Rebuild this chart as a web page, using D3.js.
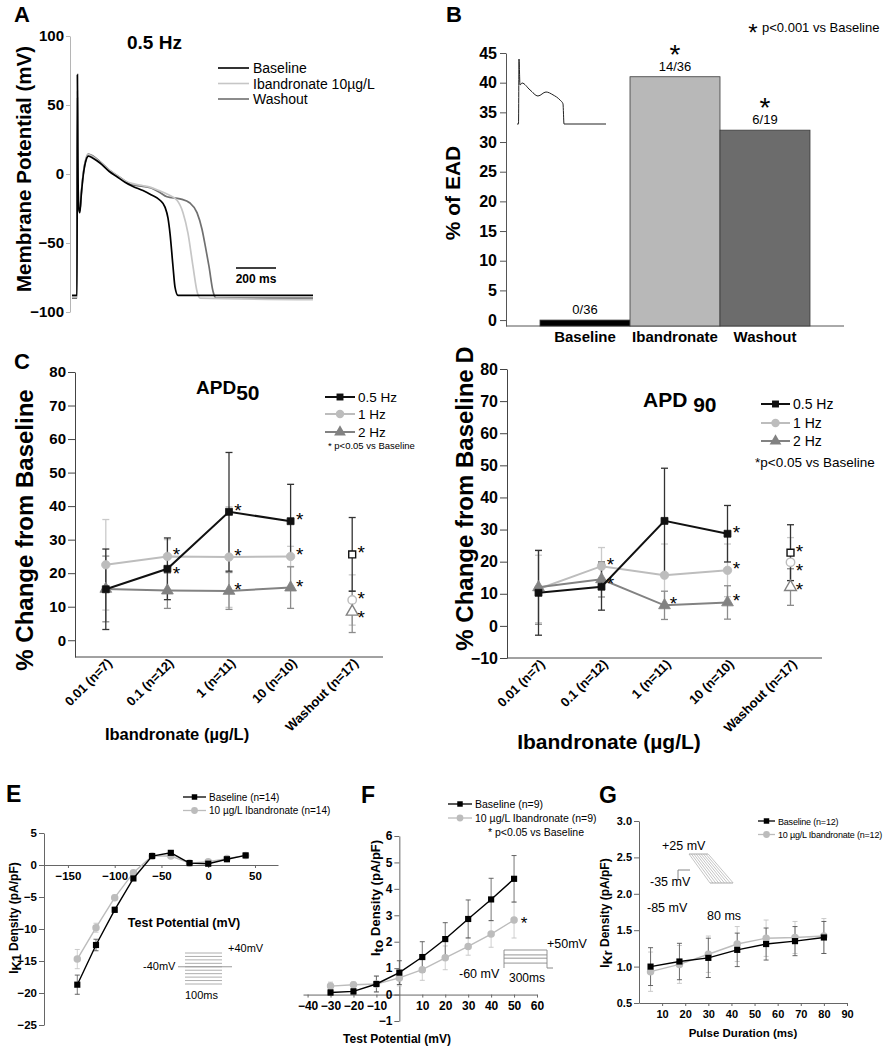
<!DOCTYPE html>
<html>
<head>
<meta charset="utf-8">
<script src="https://cdn.jsdelivr.net/npm/d3@7"></script>
<style>
  body { margin: 0; background: #fff; }
  svg { display: block; }
</style>
</head>
<body>
<svg id="fig" width="889" height="1050"></svg>
<script>
// ---------- data ----------
// A: action potential traces, [time ms, mV]
const apBaseline = [[-25,-88],[0,-88],[2,72],[4,20],[8,-24],[14,-28],[22,-14],[32,0],[45,10],[57,13],[80,11.5],[115,8],[160,2],[200,-2],[240,-6],[280,-9],[330,-12],[370,-15],[415,-19],[440,-24],[455,-32],[465,-43],[480,-67],[490,-82],[505,-88],[1180,-88]];
const apIbandronate = [[-25,-89],[0,-89],[2,60],[4,15],[8,-24],[14,-27],[22,-13],[32,1],[45,11],[57,14],[80,12.5],[115,8.5],[160,3],[200,-1],[240,-5],[280,-7],[330,-8.5],[365,-9.5],[410,-12],[450,-14.5],[500,-19],[530,-28],[555,-43],[580,-67],[600,-85],[615,-90],[1180,-91]];
const apWashout = [[-25,-90],[0,-90],[2,55],[4,15],[8,-24],[14,-27],[22,-13],[32,1],[45,11],[57,14.5],[80,13],[115,9],[160,3],[200,-1],[240,-5],[280,-8],[330,-9],[365,-10],[410,-13],[450,-16.5],[515,-18],[565,-21],[600,-28],[625,-40],[645,-55],[660,-67],[680,-85],[695,-90],[1180,-90]];
const apLegend = ["Baseline", "Ibandronate 10\u00b5g/L", "Washout"];
const apYTicks = [100, 50, 0, -50, -100];

// B: EAD incidence
const eadGroups = ["Baseline", "Ibandronate", "Washout"];
const eadPercent = [0, 41, 32];
const eadCounts = ["0/36", "14/36", "6/19"];
const eadSig = [false, true, true];
const eadTrace = [[0,-85],[1.5,-85],[2,60],[3,2],[5,6.5],[13,-9],[21,-22.5],[29,-13.6],[36,-20],[43,-31.5],[46,-40],[47,-85],[89,-85]];

// C, D: % change from baseline
const doseLabels = ["0.01 (n=7)", "0.1 (n=12)", "1 (n=11)", "10 (n=10)", "Washout (n=17)"];
const freqNames = ["0.5 Hz", "1 Hz", "2 Hz"];

const apd50Hz05 = [15.2, 21.3, 38.3, 35.5, 25.6];
const apd50Hz05Err = [12, 9.2, 17.7, 11, 11];
const apd50Hz1 = [22.5, 25, 24.8, 25, 12];
const apd50Hz1Err = [13.5, 5, 15, 3, 7.5];
const apd50Hz2 = [15.3, 14.8, 14.7, 15.7, 8.5];
const apd50Hz2Err = [9.8, 5.3, 5.5, 6.2, 6.2];
const apd50Sig05 = [0, 1, 1, 1, 1];
const apd50Sig1 = [0, 1, 1, 1, 1];
const apd50Sig2 = [0, 0, 1, 1, 1];

const apd90Hz05 = [10.3, 12.2, 32.7, 28.7, 22.8];
const apd90Hz05Err = [13.2, 7.3, 16.4, 8.8, 8.7];
const apd90Hz1 = [11.5, 18.6, 15.8, 17.3, 19.8];
const apd90Hz1Err = [10.5, 5.8, 9.7, 8.2, 7.7];
const apd90Hz2 = [12, 14.5, 6.4, 7.3, 12.1];
const apd90Hz2Err = [11.5, 5.5, 4.4, 5.2, 5.7];
const apd90Sig05 = [0, 0, 0, 1, 1];
const apd90Sig1 = [0, 1, 0, 1, 1];
const apd90Sig2 = [0, 1, 1, 1, 1];

// E: IK1
const eVolt = [-140, -120, -100, -80, -60, -40, -20, 0, 20, 40];
const eBase = [-18.7, -12.5, -7.0, -2.1, 1.4, 1.9, 0.3, 0.2, 0.9, 1.5];
const eBaseErr = [1.5, 0.9, 0.4, 0.3, 0.3, 0.3, 0.2, 0.2, 0.3, 0.3];
const eIban = [-14.7, -9.8, -5.1, -1.2, 1.4, 1.4, 0.3, 0.5, 1.0, 1.5];
const eIbanErr = [1.5, 0.7, 0.4, 0.3, 0.3, 0.3, 0.2, 0.2, 0.3, 0.3];
const eSteps = [-140, -120, -100, -80, -60, -40, -20, 0, 20, 40];

// F: Ito
const fVolt = [-30, -20, -10, 0, 10, 20, 30, 40, 50];
const fBase = [0.08, 0.12, 0.4, 0.83, 1.42, 2.1, 2.86, 3.6, 4.38];
const fBaseErr = [0.1, 0.1, 0.3, 0.45, 0.58, 0.62, 0.72, 0.8, 0.88];
const fIban = [0.32, 0.37, 0.4, 0.63, 0.94, 1.39, 1.82, 2.29, 2.82];
const fIbanErr = [0.15, 0.1, 0.3, 0.3, 0.4, 0.45, 0.33, 0.5, 0.68];
const fSteps = [-30, 0, 20, 50];

// G: IKr
const gDur = [5, 17.5, 30, 42.5, 55, 67.5, 80];
const gBase = [1.0, 1.07, 1.12, 1.23, 1.31, 1.35, 1.40];
const gBaseErr = [0.26, 0.25, 0.27, 0.23, 0.22, 0.2, 0.22];
const gIban = [0.93, 1.03, 1.17, 1.31, 1.39, 1.40, 1.42];
const gIbanErr = [0.27, 0.26, 0.25, 0.24, 0.25, 0.22, 0.24];

// ---------- helpers ----------
const FONT = "Arial, 'Liberation Sans', sans-serif";
const svg = d3.select("#fig").attr("font-family", FONT);
svg.append("rect").attr("width", 889).attr("height", 1050).attr("fill", "#fff");

function txt(g, s, x, y, o = {}) {
  const t = g.append("text").attr("x", x).attr("y", y).text(s)
    .attr("font-size", o.size || 12)
    .attr("font-weight", o.bold ? "bold" : "normal")
    .attr("text-anchor", o.anchor || "start")
    .attr("fill", o.fill || "#000");
  if (o.rotate) t.attr("transform", `rotate(${o.rotate},${x},${y})`);
  if (o.ls) t.attr("letter-spacing", o.ls);
  return t;
}

function styleAxis(sel, size, color) {
  sel.attr("font-family", FONT).attr("font-size", size).attr("font-weight", "bold");
  sel.select(".domain").attr("stroke", color);
  sel.selectAll(".tick line").attr("stroke", color);
  sel.selectAll(".tick text").attr("fill", "#000");
}

// ---------- A ----------
const gA = svg.append("g");
const xA = d3.scaleLinear().domain([-30, 1180]).range([71, 313]);
const yA = d3.scaleLinear().domain([-100, 100]).range([312, 36]);

gA.append("g").attr("transform", "translate(70,0)")
  .call(d3.axisLeft(yA).tickValues(apYTicks).tickSize(4).tickSizeOuter(0).tickPadding(2))
  .call(s => styleAxis(s, 15, "#b5b5b5"));

const apLine = d3.line().x(d => xA(d[0])).y(d => yA(d[1])).curve(d3.curveMonotoneX);
const apColors = ["#000", "#c6c6c6", "#707070"];
[[apWashout, apColors[2]], [apIbandronate, apColors[1]], [apBaseline, apColors[0]]].forEach(([d, c]) => {
  gA.append("path").datum(d).attr("d", apLine).attr("fill", "none")
    .attr("stroke", c).attr("stroke-width", 1.7);
});

apLegend.forEach((name, i) => {
  const y = 68 + i * 15.5;
  gA.append("line").attr("x1", 218).attr("x2", 249).attr("y1", y).attr("y2", y)
    .attr("stroke", apColors[i]).attr("stroke-width", 1.6);
  txt(gA, name, 253, y + 5, { size: 14 });
});

txt(gA, "0.5 Hz", 127, 49, { size: 19, bold: true });
// 200 ms scale bar
gA.append("line").attr("x1", xA(795)).attr("x2", xA(995)).attr("y1", 268).attr("y2", 268)
  .attr("stroke", "#000").attr("stroke-width", 1.3);
txt(gA, "200 ms", xA(895), 283, { size: 12, bold: true, anchor: "middle" });
txt(gA, "Membrane Potential (mV)", 31, 169, { size: 20.5, bold: true, anchor: "middle", rotate: -90 });
txt(gA, "A", 14, 22, { size: 22, bold: true });

// ---------- B ----------
const gB = svg.append("g");
const xB = d3.scaleBand().domain(eadGroups).range([540, 810]).padding(0);
const yB = d3.scaleLinear().domain([-1, 45]).range([326, 53]);
const barColors = ["#000", "#b8b8b8", "#6c6c6c"];

gB.append("g").attr("transform", "translate(506,0)")
  .call(d3.axisLeft(yB).tickValues(d3.range(0, 46, 5)).tickSize(6).tickSizeOuter(0).tickPadding(3))
  .call(s => styleAxis(s, 16, "#555"));
gB.append("line").attr("x1", 506).attr("x2", 844).attr("y1", 326).attr("y2", 326).attr("stroke", "#555");

gB.selectAll("rect.bar").data(eadGroups).join("rect").attr("class", "bar")
  .attr("x", d => xB(d)).attr("width", xB.bandwidth())
  .attr("y", (d, i) => yB(eadPercent[i]))
  .attr("height", (d, i) => yB(-1) - yB(eadPercent[i]))
  .attr("fill", (d, i) => barColors[i]).attr("stroke", "#3a3a3a").attr("stroke-width", 0.8);

eadGroups.forEach((g, i) => {
  const cx = xB(g) + xB.bandwidth() / 2;
  const top = yB(eadPercent[i]);
  txt(gB, eadCounts[i], cx, top - 6, { size: 13, anchor: "middle" });
  if (eadSig[i]) txt(gB, "*", cx, top - 13, { size: 28, anchor: "middle" });
  txt(gB, g, cx, 342, { size: 15, bold: true, anchor: "middle" });
});

// inset EAD trace
const xI = d3.scaleLinear().domain([0, 89]).range([517, 606]);
const yI = d3.scaleLinear().domain([-85, 60]).range([124, 59]);
gB.append("path").datum(eadTrace)
  .attr("d", d3.line().x(d => xI(d[0])).y(d => yI(d[1])).curve(d3.curveMonotoneX))
  .attr("fill", "none").attr("stroke", "#222").attr("stroke-width", 1);

txt(gB, "*", 753, 41, { size: 24, anchor: "middle" });
txt(gB, "p<0.001 vs Baseline", 762, 32, { size: 13 });
txt(gB, "% of EAD", 460, 193, { size: 21, bold: true, anchor: "middle", rotate: -90 });
txt(gB, "B", 446, 22, { size: 22, bold: true });

// ---------- C & D ----------
const freqColors = ["#111", "#bdbdbd", "#828282"];
const errColors = ["#333", "#cacaca", "#8c8c8c"];
const freqSymbols = [d3.symbolSquare, d3.symbolCircle, d3.symbolTriangle];
const freqSizes = [48, 56, 60];

function drawAPD(cfg) {
  const g = svg.append("g");
  const x = d3.scalePoint().domain(doseLabels).range(cfg.xr).padding(0.5);
  const y = d3.scaleLinear().domain(cfg.yd).range(cfg.yr);

  g.append("g").attr("transform", `translate(${cfg.xr[0]},0)`)
    .call(d3.axisLeft(y).tickValues(cfg.ticks).tickSize(7).tickSizeOuter(0).tickPadding(2))
    .call(s => styleAxis(s, cfg.tickFont, "#444"));
  g.append("line").attr("x1", cfg.xr[0]).attr("x2", cfg.xr[1])
    .attr("y1", cfg.yr[0]).attr("y2", cfg.yr[0]).attr("stroke", "#444");

  doseLabels.forEach(d => {
    txt(g, d, x(d) + 7, cfg.yr[0] + 7, { size: 13, bold: true, anchor: "end", rotate: -45 });
  });

  const line = d3.line().x((d, i) => x(doseLabels[i])).y(d => y(d));
  const order = [1, 2, 0];
  order.forEach(k => {
    const m = cfg.means[k], e = cfg.errs[k];
    // error bars
    m.forEach((v, i) => {
      const cx = x(doseLabels[i]);
      g.append("line").attr("x1", cx).attr("x2", cx).attr("y1", y(v - e[i])).attr("y2", y(v + e[i]))
        .attr("stroke", errColors[k]).attr("stroke-width", 1.3);
      [v - e[i], v + e[i]].forEach(w => {
        g.append("line").attr("x1", cx - 3.5).attr("x2", cx + 3.5).attr("y1", y(w)).attr("y2", y(w))
          .attr("stroke", errColors[k]).attr("stroke-width", 1.3);
      });
    });
  });
  order.forEach(k => {
    const m = cfg.means[k];
    g.append("path").datum(m.slice(0, 4)).attr("d", line).attr("fill", "none")
      .attr("stroke", freqColors[k]).attr("stroke-width", 2);
    m.forEach((v, i) => {
      const washout = i === 4;
      g.append("path")
        .attr("d", d3.symbol().type(freqSymbols[k]).size(freqSizes[k]))
        .attr("transform", `translate(${x(doseLabels[i])},${y(v)})`)
        .attr("fill", washout ? "#fff" : freqColors[k])
        .attr("stroke", freqColors[k]).attr("stroke-width", washout ? 1.4 : 0.8);
    });
  });

  // significance stars, spread apart where they would collide
  doseLabels.forEach((d, i) => {
    const stars = [];
    [0, 1, 2].forEach(k => {
      if (cfg.sig[k][i]) stars.push(y(cfg.means[k][i]) - 6);
    });
    stars.sort((a, b) => a - b);
    for (let j = 1; j < stars.length; j++) {
      if (stars[j] - stars[j - 1] < 19) stars[j] = stars[j - 1] + 19;
    }
    stars.forEach(cy => txt(g, "*", x(d) + 9, cy + 11, { size: 19, anchor: "middle" }));
  });

  // legend
  freqNames.forEach((name, k) => {
    const ly = cfg.legY[k];
    g.append("line").attr("x1", cfg.legX[0]).attr("x2", cfg.legX[1]).attr("y1", ly).attr("y2", ly)
      .attr("stroke", freqColors[k]).attr("stroke-width", 2);
    g.append("path").attr("d", d3.symbol().type(freqSymbols[k]).size(freqSizes[k]))
      .attr("transform", `translate(${(cfg.legX[0] + cfg.legX[1]) / 2},${ly})`)
      .attr("fill", freqColors[k]);
    txt(g, name, cfg.legX[1] + 3, ly + 5, { size: cfg.legFont });
  });
  txt(g, cfg.note, cfg.noteXY[0], cfg.noteXY[1], { size: cfg.noteFont });
  return g;
}

const gC = drawAPD({
  xr: [75, 383], yd: [-5, 80], yr: [657, 372], ticks: d3.range(0, 81, 10), tickFont: 15,
  means: [apd50Hz05, apd50Hz1, apd50Hz2], errs: [apd50Hz05Err, apd50Hz1Err, apd50Hz2Err],
  sig: [apd50Sig05, apd50Sig1, apd50Sig2],
  legX: [325, 355], legY: [397, 414, 432], legFont: 13.5,
  note: "* p<0.05 vs Baseline", noteXY: [328, 449], noteFont: 9.5
});
const tC = gC.append("text").attr("y", 394).attr("font-weight", "bold").attr("x", 196);
tC.append("tspan").attr("font-size", 19).text("APD");
tC.append("tspan").attr("font-size", 21).attr("dy", 6).text("50");
txt(gC, "Ibandronate (\u00b5g/L)", 177, 740, { size: 16.5, bold: true, anchor: "middle" });
txt(gC, "% Change from Baseline", 33, 530, { size: 24, bold: true, anchor: "middle", rotate: -90 });
txt(gC, "C", 14, 369, { size: 22, bold: true });

const gD = drawAPD({
  xr: [507, 822], yd: [-10, 80], yr: [658, 369], ticks: d3.range(-10, 81, 10), tickFont: 16,
  means: [apd90Hz05, apd90Hz1, apd90Hz2], errs: [apd90Hz05Err, apd90Hz1Err, apd90Hz2Err],
  sig: [apd90Sig05, apd90Sig1, apd90Sig2],
  legX: [761, 790], legY: [404, 423, 441], legFont: 14,
  note: "*p<0.05 vs Baseline", noteXY: [755, 467], noteFont: 13.5
});
const tD = gD.append("text").attr("y", 407).attr("font-weight", "bold").attr("x", 643).attr("font-size", 21);
tD.append("tspan").text("APD ");
tD.append("tspan").attr("dy", 5).text("90");
txt(gD, "Ibandronate (\u00b5g/L)", 609, 749, { size: 21, bold: true, anchor: "middle" });
txt(gD, "% Change from Baseline", 473, 510, { size: 24, bold: true, anchor: "middle", rotate: -90 });
txt(gD, "D", 473, 355, { size: 23, bold: true, anchor: "middle", rotate: -90 });

// ---------- E, F, G ----------
function drawIV(cfg) {
  const g = svg.append("g");
  const x = d3.scaleLinear().domain(cfg.xd).range(cfg.xr);
  const y = d3.scaleLinear().domain(cfg.yd).range(cfg.yr);
  g.append("g").attr("transform", `translate(0,${y(cfg.xAxisAt)})`)
    .call(d3.axisBottom(x).tickValues(cfg.xticks).tickSize(3).tickSizeOuter(0).tickPadding(4).tickFormat(cfg.xfmt || d3.format("d")))
    .call(s => styleAxis(s, cfg.tickFont, "#666"));
  g.append("g").attr("transform", `translate(${x(cfg.yAxisAt)},0)`)
    .call(d3.axisLeft(y).tickValues(cfg.yticks).tickSize(5).tickSizeOuter(0).tickPadding(2).tickFormat(cfg.yfmt || d3.format("d")))
    .call(s => styleAxis(s, cfg.tickFont, "#666"));

  const cols = ["#000", "#bcbcbc"];
  const ecols = ["#555", "#c4c4c4"];
  [1, 0].forEach(k => {
    const m = cfg.means[k], e = cfg.errs[k];
    m.forEach((v, i) => {
      const cx = x(cfg.xs[i]);
      g.append("line").attr("x1", cx).attr("x2", cx).attr("y1", y(v - e[i])).attr("y2", y(v + e[i]))
        .attr("stroke", ecols[k]).attr("stroke-width", 0.8);
      [v - e[i], v + e[i]].forEach(w => {
        g.append("line").attr("x1", cx - 2.5).attr("x2", cx + 2.5).attr("y1", y(w)).attr("y2", y(w))
          .attr("stroke", ecols[k]).attr("stroke-width", 0.9);
      });
    });
  });
  [1, 0].forEach(k => {
    const m = cfg.means[k];
    g.append("path").datum(m)
      .attr("d", d3.line().x((d, i) => x(cfg.xs[i])).y(d => y(d)))
      .attr("fill", "none").attr("stroke", cols[k]).attr("stroke-width", 1.4);
    g.selectAll(null).data(m).join("path")
      .attr("d", d3.symbol().type(k === 0 ? d3.symbolSquare : d3.symbolCircle).size(k === 0 ? 38 : 44))
      .attr("transform", (d, i) => `translate(${x(cfg.xs[i])},${y(d)})`)
      .attr("fill", cols[k]);
  });

  // legend
  cfg.legend.forEach((name, k) => {
    const ly = cfg.legY + k * cfg.legStep;
    g.append("line").attr("x1", cfg.legX[0]).attr("x2", cfg.legX[1]).attr("y1", ly).attr("y2", ly)
      .attr("stroke", cols[k]).attr("stroke-width", 1.3);
    g.append("path").attr("d", d3.symbol().type(k === 0 ? d3.symbolSquare : d3.symbolCircle).size(k === 0 ? 30 : 36))
      .attr("transform", `translate(${(cfg.legX[0] + cfg.legX[1]) / 2},${ly})`).attr("fill", cols[k]);
    txt(g, name, cfg.legX[1] + 3, ly + 3.5, { size: cfg.legFont, ls: cfg.legLs });
  });
  g.x = x; g.y = y;
  return g;
}

function yLabelSub(g, main, sub, rest, x, y, size) {
  const t = g.append("text").attr("transform", `translate(${x},${y}) rotate(-90)`)
    .attr("text-anchor", "middle").attr("font-size", size).attr("font-weight", "bold");
  t.append("tspan").text(main);
  t.append("tspan").attr("dy", 3).attr("font-size", size * 1.05).text(sub);
  t.append("tspan").attr("dy", -3).text(rest);
}

// E
const gE = drawIV({
  xd: [-175.6, 74.6], xr: [44, 278], yd: [-25, 5], yr: [1025, 833],
  xAxisAt: 0, yAxisAt: -175.6, xticks: [-150, -100, -50, 0, 50], yticks: d3.range(-25, 6, 5),
  tickFont: 11.5, xs: eVolt, means: [eBase, eIban], errs: [eBaseErr, eIbanErr],
  legend: ["Baseline (n=14)", "10 \u00b5g/L Ibandronate (n=14)"], legX: [183, 206], legY: 797, legStep: 13.5, legFont: 10
});
txt(gE, "Test Potential (mV)", 184, 927, { size: 12.5, bold: true, anchor: "middle" });
yLabelSub(gE, "I", "K1", " Density (pA/pF)", 18, 918, 12);
txt(gE, "E", 6, 802, { size: 23, bold: true });
// protocol inset
const sE = d3.scaleLinear().domain([-140, 40]).range([984, 953]);
eSteps.forEach(v => {
  gE.append("line").attr("x1", 185).attr("x2", 222).attr("y1", sE(v)).attr("y2", sE(v))
    .attr("stroke", "#999").attr("stroke-width", 0.8);
});
gE.append("line").attr("x1", 178).attr("x2", 232).attr("y1", sE(-40)).attr("y2", sE(-40)).attr("stroke", "#999");
txt(gE, "+40mV", 228, 952, { size: 11 });
txt(gE, "-40mV", 143, 970, { size: 11 });
txt(gE, "100ms", 185, 999, { size: 11 });

// F
const gF = drawIV({
  xd: [-42, 60], xr: [303, 537], yd: [-1, 6], yr: [1021, 836],
  xAxisAt: 0, yAxisAt: 0, xticks: [-40, -30, -20, -10, 10, 20, 30, 40, 50, 60], yticks: d3.range(-1, 7, 1),
  tickFont: 12, xs: fVolt, means: [fBase, fIban], errs: [fBaseErr, fIbanErr],
  legend: ["Baseline (n=9)", "10 \u00b5g/L Ibandronate (n=9)"], legX: [448, 472], legY: 804, legStep: 14, legFont: 10.5
});
txt(gF, "* p<0.05 vs Baseline", 488, 836, { size: 10.5 });
txt(gF, "*", gF.x(50) + 10, gF.y(fIban[8]) + 9, { size: 17, anchor: "middle" });
txt(gF, "Test Potential (mV)", 397, 1043, { size: 12, bold: true, anchor: "middle" });
yLabelSub(gF, "I", "to", " Density (pA/pF)", 380, 898, 13);
txt(gF, "F", 361, 803, { size: 23, bold: true });
const sF = d3.scaleLinear().domain([-60, 50]).range([968, 950]);
fSteps.forEach(v => {
  gF.append("line").attr("x1", 504).attr("x2", 547).attr("y1", sF(v)).attr("y2", sF(v))
    .attr("stroke", "#888").attr("stroke-width", 0.9);
});
[504, 547].forEach(xx => gF.append("line").attr("x1", xx).attr("x2", xx).attr("y1", sF(50)).attr("y2", sF(-60))
  .attr("stroke", "#888").attr("stroke-width", 0.9));
gF.append("line").attr("x1", 547).attr("x2", 553).attr("y1", sF(-60)).attr("y2", sF(-60)).attr("stroke", "#888");
txt(gF, "+50mV", 547, 948, { size: 12.5 });
txt(gF, "-60 mV", 459, 978, { size: 12.5 });
txt(gF, "300ms", 509, 982, { size: 12 });

// G
const gG = drawIV({
  xd: [0, 90], xr: [639, 847], yd: [0.5, 3], yr: [1003, 821],
  xAxisAt: 0.5, yAxisAt: 0, xticks: d3.range(10, 91, 10), yticks: d3.range(0.5, 3.01, 0.5),
  yfmt: d3.format(".1f"),
  tickFont: 11, xs: gDur, means: [gBase, gIban], errs: [gBaseErr, gIbanErr],
  legend: ["Baseline (n=12)", "10 \u00b5g/L Ibandronate (n=12)"], legX: [758, 775], legY: 821, legStep: 13.5,
  legFont: 9, legLs: -0.2
});
txt(gG, "Pulse Duration (ms)", 743, 1037, { size: 11.5, bold: true, anchor: "middle" });
yLabelSub(gG, "I", "Kr", " Density (pA/pF)", 609, 913, 12);
txt(gG, "G", 599, 803, { size: 23, bold: true });
// ramp protocol inset
const fan = d3.range(0, 9);
fan.forEach(i => {
  gG.append("line").attr("x1", 689 + i * 2.4).attr("y1", 854).attr("x2", 710 + i * 2.9).attr("y2", 883)
    .attr("stroke", "#aaa").attr("stroke-width", 0.7);
});
gG.append("line").attr("x1", 689).attr("x2", 708).attr("y1", 854).attr("y2", 854).attr("stroke", "#aaa");
gG.append("line").attr("x1", 710).attr("x2", 733).attr("y1", 883).attr("y2", 883).attr("stroke", "#aaa");
gG.append("path").attr("d", "M678,880V870H690").attr("fill", "none").attr("stroke", "#888");
txt(gG, "+25 mV", 662, 850, { size: 12.5 });
txt(gG, "-35 mV", 650, 886, { size: 12.5 });
txt(gG, "-85 mV", 647, 912, { size: 12.5 });
txt(gG, "80 ms", 707, 920, { size: 12.5 });
</script>
</body>
</html>
